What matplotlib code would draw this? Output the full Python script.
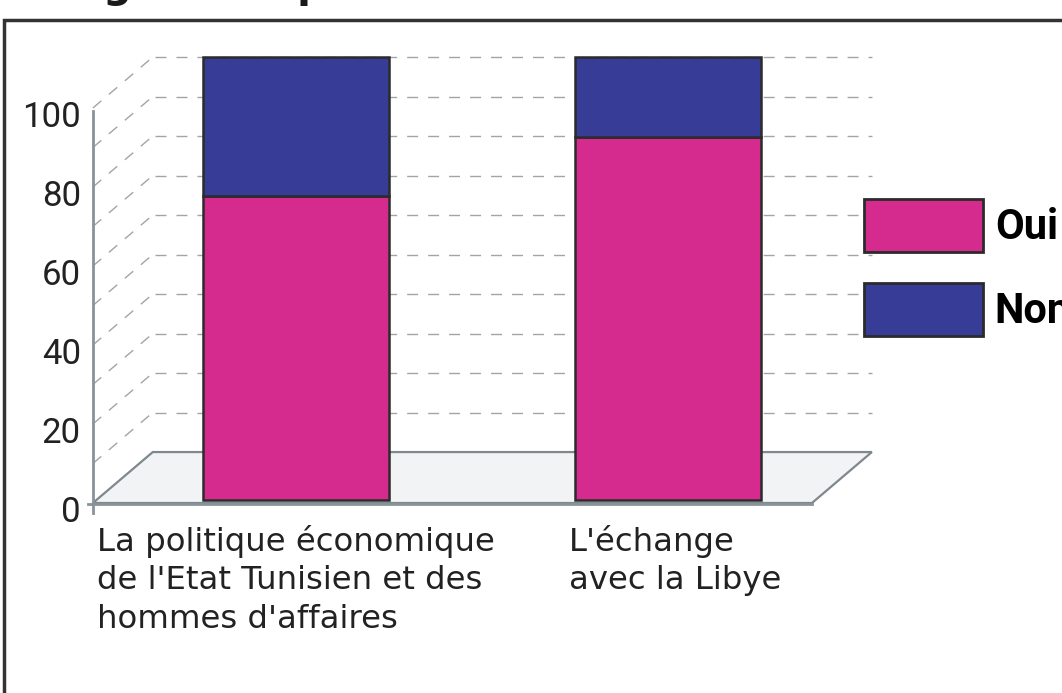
import matplotlib
matplotlib.use("Agg")
import matplotlib.pyplot as plt
from matplotlib.patches import Polygon, Rectangle, Patch
import numpy as np

categories = ["La politique économique\nde l'Etat Tunisien et des\nhommes d'affaires",
              "L'échange\navec la Libye"]
oui = np.array([68.6, 82.0])
non = 100 - oui
series_names = ["Oui", "Non"]
y_ticks = [0, 20, 40, 60, 80, 100]
grid_steps = np.arange(10, 101, 10)

PINK = "#d52a8e"
BLUE = "#373c96"
EDGE = "#2b2b2b"
GRID = "#a0a5a9"
AXIS = "#89939a"

# fake 3d: the back wall is shifted right/up from the front axis
AX_X = -0.546      # front y axis
FLOOR_R = 1.387    # front right corner of the floor
DX, DY = 0.161, 12.9
BAR_BASE = 0.76
STRETCH = (100 + DY - BAR_BASE) / 100.0

fig = plt.figure(figsize=(10.62, 6.93), dpi=100)
ax = fig.add_axes([0, 0, 1, 1])
ax.set_xlim(-0.7957, 2.0591)
ax.set_ylim(-48.1, 127.34)
ax.axis("off")

# floor
floor = Polygon([(AX_X, 0), (FLOOR_R, 0), (FLOOR_R + DX, DY), (AX_X + DX, DY)],
                closed=True, facecolor="#f2f3f5", edgecolor="#7e888d", lw=1.6, zorder=1)
ax.add_patch(floor)

# dashed grid: slanted part on the side, horizontal part on the back wall
for t in grid_steps:
    ax.plot([AX_X, AX_X + DX], [t, t + DY], color=GRID, lw=1.0,
            linestyle=(0, (7.9, 7.2)), zorder=2)
    ax.plot([AX_X + DX + 0.005, FLOOR_R + DX], [t + DY, t + DY], color=GRID, lw=1.0,
            linestyle=(0, (7.9, 7.2)), zorder=2)

# front axis lines
ax.plot([AX_X, AX_X], [-2.5, 99.2], color=AXIS, lw=2.0, zorder=3)
ax.plot([-0.559, FLOOR_R], [-0.3, -0.3], color=AXIS, lw=2.0, zorder=3)

for t in y_ticks:
    ax.text(-0.578, t - 2.4, str(t), ha="right", va="center", fontsize=25,
            family="Roboto", color="#222222")

# bars
x = np.arange(len(categories))
ax.bar(x, oui * STRETCH, bottom=BAR_BASE, width=0.5, color=PINK,
       edgecolor=EDGE, lw=1.8, zorder=4)
ax.bar(x, non * STRETCH, bottom=BAR_BASE + oui * STRETCH, width=0.5, color=BLUE,
       edgecolor=EDGE, lw=1.8, zorder=4)

# category labels: block centred on the bar, lines left aligned
for xi, lab in zip(x, categories):
    ax.text(xi + 0.02 * xi, -5.5, lab, ha="center", va="top", multialignment="left",
            fontsize=23.3, color="#222222", linespacing=1.32)

# legend
handles = [Patch(facecolor=PINK, edgecolor=EDGE, lw=2),
           Patch(facecolor=BLUE, edgecolor=EDGE, lw=2)]
leg = fig.legend(handles, series_names, loc="upper left",
                 bbox_to_anchor=(864 / 1062, 1 - 199 / 693), frameon=False,
                 borderpad=0, borderaxespad=0, handlelength=2.85, handleheight=1.58,
                 handletextpad=0.29, labelspacing=0.74,
                 prop={"family": "Roboto", "weight": "bold", "size": 30})

# outer frame (cut by the screenshot on the right and bottom)
fig.patches.append(Rectangle((4 / 1062, -0.2), 1.2, 1.2 - 20 / 693, fill=False,
                             edgecolor="#333333", lw=2.5, transform=fig.transFigure))

# title, mostly outside the crop
fig.text(19 / 1062, 1 + 3 / 693, "Image de l'opinion", ha="left", va="baseline",
         fontsize=29, weight="bold", color="#1a1a1a")

fig.savefig("out.png", dpi=100)
